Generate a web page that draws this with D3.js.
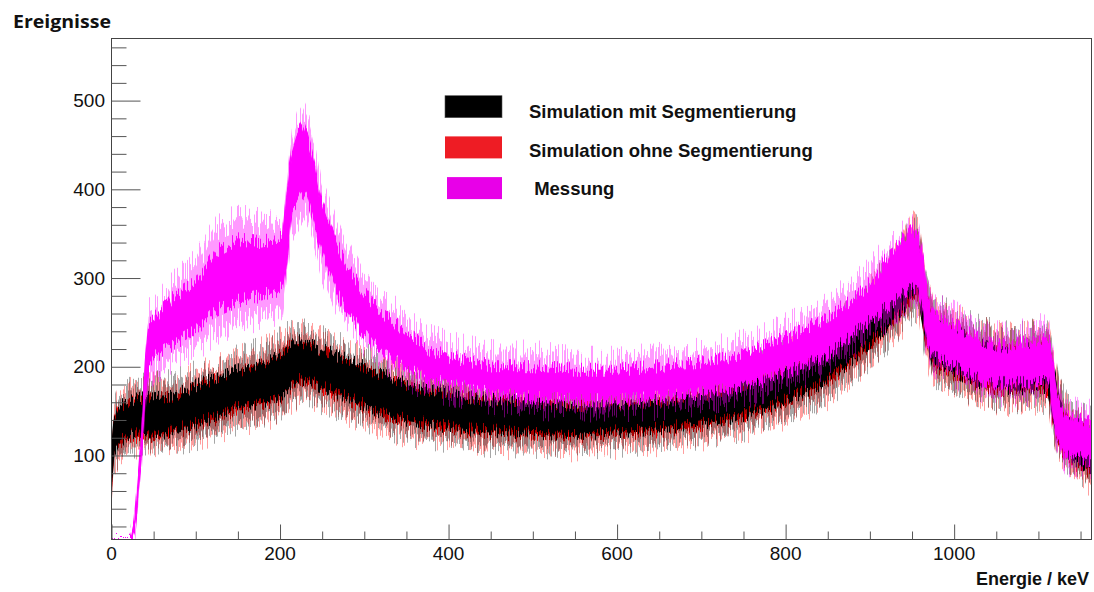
<!DOCTYPE html>
<html><head><meta charset="utf-8">
<script src="https://cdn.jsdelivr.net/npm/d3@7/dist/d3.min.js"></script>
<style>
html,body{margin:0;padding:0;background:#fff;}
svg{display:block;}
</style></head>
<body>
<svg id="chart" width="1094" height="592"></svg>
<script>
// ---------------- data ----------------
const xTickLabels = [0, 200, 400, 600, 800, 1000];
const yTickLabels = [100, 200, 300, 400, 500];
const legendLabels = ["Simulation mit Segmentierung", "Simulation ohne Segmentierung", " Messung"];

// energy grid (keV) for both simulations
const energySim = [0,3,8,25,50,75,100,125,150,175,200,215,225,240,260,280,300,325,350,375,400,425,450,500,550,600,650,700,750,800,850,880,900,925,940,950,958,965,975,1000,1025,1050,1075,1100,1112,1118,1125,1135,1150,1163];
// Simulation mit Segmentierung: dense band (lo/hi) and outer spikes (min/max)
const mitLo  = [70,105,117,125,123,130,136,145,155,160,168,183,188,182,174,166,158,147,141,137,133,130,129,126,125,128,131,137,146,163,185,210,228,252,268,280,285,240,205,195,185,178,176,178,176,140,115,100,90,85];
const mitHi  = [105,140,155,162,165,167,178,187,195,201,215,228,228,222,215,207,199,189,180,174,170,165,163,161,156,158,161,167,180,200,224,250,270,298,318,335,338,290,250,240,228,220,218,222,220,195,160,140,132,125];
const mitMin = [45,95,100,110,110,115,120,130,138,143,150,165,170,165,157,150,142,132,126,122,118,115,113,112,110,113,116,122,130,146,168,192,210,232,250,262,268,222,190,180,170,163,160,163,160,125,100,88,78,72];
const mitMax = [115,150,165,175,180,182,192,200,210,218,230,240,240,235,228,220,212,203,195,188,185,180,178,175,170,172,176,183,196,216,240,266,288,318,340,365,355,305,270,258,245,238,235,240,236,210,175,155,145,140];
// Simulation ohne Segmentierung
const ohneLo  = [67,102,114,122,120,127,133,142,152,157,165,180,185,179,171,163,155,144,138,134,130,127,126,123,122,125,128,134,143,160,182,207,225,249,265,277,282,237,202,192,182,175,173,175,173,137,112,97,87,82];
const ohneHi  = [103,138,153,160,163,165,176,185,193,199,213,226,226,220,213,205,197,187,178,172,168,163,161,159,154,156,159,165,178,198,222,248,268,296,316,333,336,288,248,238,226,218,216,220,218,193,158,138,130,123];
const ohneMin = [43,93,98,108,108,113,118,128,136,141,148,163,168,163,155,148,140,130,124,120,116,113,111,110,108,111,114,120,128,144,166,190,208,230,248,260,266,220,188,178,168,161,158,161,158,123,98,86,75,69];
const ohneMax = [114,149,164,174,179,181,191,199,209,217,229,239,239,234,227,219,211,202,194,187,184,179,177,174,169,171,175,182,195,215,239,265,287,317,339,362,354,304,269,257,244,237,234,239,235,209,174,154,144,139];

// energy grid (keV) for the measurement
const energyMess = [0,22,24,28,32,36,40,44,50,75,100,125,150,175,195,203,208,214,220,226,233,241,249,257,265,277,297,316,336,356,376,400,435,455,500,550,600,650,690,725,765,805,845,885,905,925,937,948,958,963,968,976,988,1003,1023,1042,1062,1082,1102,1113,1118,1122,1133,1145,1163];
const messLo  = [0,0,3,18,60,105,165,200,211,227,241,265,275,280,286,290,324,380,388,399,388,362,331,309,290,267,241,222,208,196,185,182,174,170,166,163,163,166,170,174,182,196,211,241,256,272,283,290,286,265,227,211,208,200,189,182,182,182,185,184,143,121,98,100,95];
const messHi  = [0,0,12,30,78,125,200,250,253,279,294,330,343,340,343,345,399,444,463,474,455,425,384,362,343,317,286,264,249,234,219,211,204,200,200,196,196,200,204,208,219,234,253,279,298,330,343,354,343,320,279,256,253,245,234,226,222,226,230,228,200,166,143,140,138];
const messMin = [0,0,0,15,55,100,150,185,195,210,220,240,250,255,260,270,305,355,365,375,365,340,310,290,273,253,227,210,197,185,175,171,165,160,155,153,153,155,159,163,171,185,200,227,243,257,267,275,270,250,215,200,195,188,177,171,170,170,173,170,130,110,90,90,85];
const messMax = [0,0,14,33,85,135,208,262,265,295,318,358,368,364,362,365,410,460,480,490,475,445,400,380,360,335,300,280,265,248,235,225,218,215,215,208,208,212,216,222,230,248,268,295,315,340,350,358,350,330,290,270,265,258,248,240,235,240,246,240,210,180,155,150,148];

// ---------------- layout ----------------
const W = 1094, H = 592;
const plot = {left: 111.5, right: 1091.5, top: 38.5, bottom: 539.5};
const svg = d3.select("#chart");

const x = d3.scaleLinear().domain([0, 1163]).range([plot.left, plot.right]);
const y = d3.scaleLinear().domain([5.3, 570]).range([plot.bottom, plot.top]).clamp(true);

const defs = svg.append("defs");
defs.append("clipPath").attr("id", "clip")
  .append("rect").attr("x", plot.left).attr("y", plot.top)
  .attr("width", plot.right - plot.left).attr("height", plot.bottom - plot.top);

// spiky (histogram-like) texture: vertical-only displacement of the drawn band
function makeFilter(id, scale, seed) {
  const f = defs.append("filter").attr("id", id)
    .attr("filterUnits", "userSpaceOnUse")
    .attr("x", 0).attr("y", 0).attr("width", W).attr("height", H)
    .attr("color-interpolation-filters", "sRGB");
  f.append("feTurbulence").attr("type", "fractalNoise")
    .attr("baseFrequency", "0.85 0.002").attr("numOctaves", 2).attr("seed", seed).attr("result", "noise");
  f.append("feColorMatrix").attr("in", "noise").attr("type", "matrix")
    .attr("values", "0 0 0 0 0.5  2.6 0 0 0 -0.8  0 0 0 0 0  0 0 0 0 1").attr("result", "disp");
  f.append("feDisplacementMap").attr("in", "SourceGraphic").attr("in2", "disp")
    .attr("scale", scale).attr("xChannelSelector", "R").attr("yChannelSelector", "G");
}
makeFilter("inA", 14, 3);  makeFilter("outA", 28, 5);
makeFilter("inB", 14, 11); makeFilter("outB", 28, 13);
makeFilter("inC", 14, 23); makeFilter("outC", 28, 29);

const plotG = svg.append("g").attr("clip-path", "url(#clip)");

function band(energy, lo, hi) {
  const data = energy.map((e, i) => ({e, lo: lo[i], hi: hi[i]}));
  return d3.area().x(d => x(d.e)).y0(d => y(d.lo)).y1(d => y(d.hi))(data);
}

const series = [
  {energy: energySim, lo: ohneLo, hi: ohneHi, min: ohneMin, max: ohneMax, color: "#ff0000", f: "A", op: 0.38},
  {energy: energySim, lo: mitLo, hi: mitHi, min: mitMin, max: mitMax, color: "#000000", f: "B", op: 0.35},
  {energy: energyMess, lo: messLo, hi: messHi, min: messMin, max: messMax, color: "#ff00ff", f: "C", op: 0.4}
];

series.forEach(s => {
  const g = plotG.append("g");
  g.append("path").attr("d", band(s.energy, s.min, s.max))
    .attr("fill", s.color).attr("fill-opacity", s.op)
    .attr("filter", `url(#out${s.f})`);
  g.append("path").attr("d", band(s.energy, s.lo, s.hi))
    .attr("fill", s.color).attr("stroke", s.color).attr("stroke-width", 1.2)
    .attr("filter", `url(#in${s.f})`);
});

// ---------------- frame & axes ----------------
svg.append("rect").attr("x", plot.left).attr("y", plot.top)
  .attr("width", plot.right - plot.left).attr("height", plot.bottom - plot.top)
  .attr("fill", "none").attr("stroke", "#444").attr("stroke-width", 1);

const yAxisMajor = d3.axisRight(y).tickValues(yTickLabels).tickSize(29).tickFormat("");
const yAxisMinor = d3.axisRight(y).tickValues(d3.range(20, 561, 20).filter(v => v % 100 !== 0)).tickSize(15).tickFormat("");
const xAxisMajor = d3.axisTop(x).tickValues(xTickLabels).tickSize(15).tickFormat("");
const xAxisMinor = d3.axisTop(x).tickValues(d3.range(50, 1163, 50).filter(v => v % 200 !== 0)).tickSize(8).tickFormat("");

[[yAxisMajor, `translate(${plot.left},0)`], [yAxisMinor, `translate(${plot.left},0)`],
 [xAxisMajor, `translate(0,${plot.bottom})`], [xAxisMinor, `translate(0,${plot.bottom})`]].forEach(([ax, t]) => {
  const g = svg.append("g").attr("transform", t).call(ax);
  g.select(".domain").remove();
  g.selectAll("line").attr("stroke", "#555").attr("stroke-width", 1);
});

// tick labels
svg.append("g").selectAll("text").data(yTickLabels).join("text")
  .attr("x", 105).attr("y", d => y(d)).attr("dy", "0.35em")
  .attr("text-anchor", "end")
  .attr("font-family", "Liberation Sans, Arial, sans-serif").attr("font-size", 19)
  .attr("fill", "#111").text(d => d);
svg.append("g").selectAll("text").data(xTickLabels).join("text")
  .attr("x", d => x(d)).attr("y", 560)
  .attr("text-anchor", "middle")
  .attr("font-family", "Liberation Sans, Arial, sans-serif").attr("font-size", 19)
  .attr("fill", "#111").text(d => d);

// axis titles
svg.append("text").attr("x", 13).attr("y", 28)
  .attr("font-family", "'Open Sans', Lato, sans-serif").attr("font-weight", "bold").attr("font-size", 18.5)
  .attr("textLength", 98).attr("lengthAdjust", "spacingAndGlyphs")
  .attr("fill", "#111").text("Ereignisse");
svg.append("text").attr("x", 1089).attr("y", 585).attr("text-anchor", "end")
  .attr("font-family", "Liberation Sans, Arial, sans-serif").attr("font-weight", "bold").attr("font-size", 18)
  .attr("fill", "#111").text("Energie / keV");

// ---------------- legend ----------------
const legendColors = ["#000000", "#ee1c24", "#e800e8"];
const leg = svg.append("g");
legendLabels.forEach((lab, i) => {
  const cy = 107 + i * 40.7;
  leg.append("rect").attr("x", i === 2 ? 447 : 445).attr("y", cy - 11.3)
    .attr("width", i === 2 ? 55 : 57).attr("height", 22)
    .attr("fill", legendColors[i]).attr("stroke", i === 0 ? "#555" : "none").attr("stroke-width", 0.6);
  leg.append("text").attr("x", 529).attr("y", 118.3 + i * 38.4)
    .style("white-space", "pre")
    .attr("font-family", "Liberation Sans, Arial, sans-serif").attr("font-weight", "bold").attr("font-size", 18.5)
    .attr("fill", "#111").text(lab);
});
</script>
</body></html>
